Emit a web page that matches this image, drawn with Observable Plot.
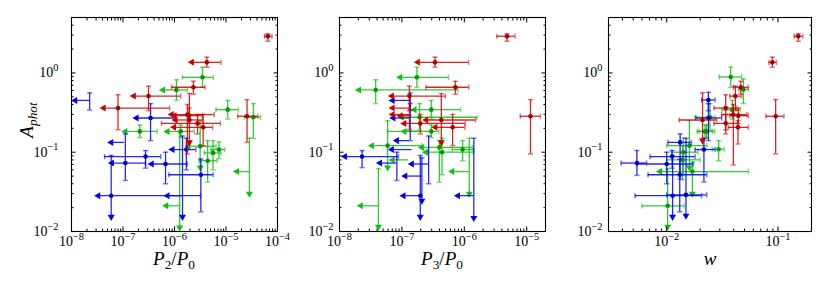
<!DOCTYPE html>
<html><head><meta charset="utf-8">
<script src="https://cdn.jsdelivr.net/npm/d3@7"></script>
<script src="https://cdn.jsdelivr.net/npm/@observablehq/plot@0.6"></script>
<style>
body{margin:0;background:#fff;}
#fig{position:relative;width:830px;height:289px;font-family:"Liberation Serif",serif;overflow:hidden;}
#fig svg{position:absolute;left:0;top:0;}
.lab{position:absolute;font-family:"Liberation Serif",serif;font-size:19px;line-height:16px;white-space:nowrap;color:#000;}
.lab sub{font-size:0.7em;vertical-align:-0.3em;line-height:0;}
</style></head><body><div id="fig"></div><script>
// columns: value, lower end, upper end (x) ; value, lower end, upper end (y) ; flags
// flags: m = marker, L = left arrow (x upper limit), D = down arrow (y upper limit)
const p2Red = [
 [6.5e-5, 5.6e-5, 7.8e-5, 2.9, 2.51, 3.11, "m"],
 [4.25e-6, 2.17e-6, 7.98e-6, 1.36, 1.18, 1.58, "mL"],
 [2.33e-6, 8.8e-7, 3.9e-6, 0.66, 0.54, 0.785, "m"],
 [3.13e-7, 1.62e-7, 1.32e-6, 0.51, 0.334, 0.68, "mL"],
 [8.0e-8, 4.2e-8, 8.05e-7, 0.36, 0.192, 0.53, "mL"],
 [1.78e-6, 8.8e-7, 5.9e-6, 0.298, 0.095, 0.40, "mL"],
 [1.92e-6, 1.0e-6, 3.5e-6, 0.289, 0.23, 0.36, "mL"],
 [2.56e-5, 1.69e-5, 4.14e-5, 0.284, 0.133, 0.46, "m"],
 [1.95e-6, 1.05e-6, 3.5e-6, 0.255, 0.133, 0.55, "mLD"],
 [2.8e-6, 5.6e-7, 7.8e-6, 0.231, 0.17, 0.30, "m"],
 [3.6e-6, 9.8e-7, 5.5e-6, 0.206, 0.121, 0.30, "mL"]
];
const p2Green = [
 [3.5e-6, 1.43e-6, 5.65e-6, 0.88, 0.66, 1.18, "m"],
 [1.09e-6, 5.97e-7, 1.78e-6, 0.61, 0.45, 0.82, "mL"],
 [1.08e-5, 6.4e-6, 1.74e-5, 0.344, 0.262, 0.45, "m"],
 [3.4e-5, 2.28e-5, 4.7e-5, 0.276, 0.15, 0.41, "m"],
 [2.85e-5, 1.64e-5, null, 0.057, 0.030, 0.15, "LD"],
 [2.12e-7, 1.11e-7, 4.6e-7, 0.183, 0.153, 0.22, "mL"],
 [1.32e-6, 7.3e-7, 2.4e-6, 0.183, 0.153, 0.22, "mL"],
 [3.15e-6, 1.87e-6, 6.4e-6, 0.119, 0.064, 0.25, "mLD"],
 [5.6e-6, 3.8e-6, 8.0e-6, 0.098, 0.06, 0.14, "m"],
 [7.3e-6, 5.1e-6, 9.5e-6, 0.108, 0.083, 0.135, "m"],
 [4.4e-6, 3.0e-6, 6.7e-6, 0.078, 0.042, 0.14, "m"],
 [1.26e-6, 6.9e-7, null, 0.0211, 0.0112, 0.18, "LD"]
];
const p2Blue = [
 [2.25e-8, 1.18e-8, null, 0.45, 0.341, 0.56, "L"],
 [3.43e-7, 1.83e-7, 9.8e-7, 0.27, 0.14, 0.41, "mL"],
 [1.07e-7, 5.9e-8, null, 0.133, null, null, "L"],
 [2.74e-7, 4.4e-8, 5.4e-7, 0.088, 0.063, 0.105, "m"],
 [1.11e-7, 6.1e-8, 2.74e-7, 0.073, 0.044, 0.17, "mL"],
 [6.7e-7, 3.6e-7, 1.78e-6, 0.071, 0.040, 0.10, "mL"],
 [5.9e-8, 3.3e-8, 3.2e-6, 0.0283, 0.0153, 0.091, "mLD"],
 [1.43e-6, 7.3e-7, null, 0.0283, 0.0153, 0.16, "LD"],
 [1.7e-6, 9.1e-7, 2.6e-6, 0.108, 0.06, 0.15, "mL"],
 [3.25e-6, 7.8e-7, 5.65e-6, 0.052, 0.0177, 0.082, "m"]
];

const p3Red = [
 [4.83e-6, 3.33e-6, 6.5e-6, 2.9, 2.51, 3.11, "m"],
 [3.39e-7, 1.8e-7, 1.17e-6, 1.36, 1.18, 1.58, "mL"],
 [7.2e-7, 2.43e-7, 1.18e-6, 0.66, 0.54, 0.785, "m"],
 [1.32e-7, 6.9e-8, 4.97e-7, 0.51, 0.334, 0.68, "mL"],
 [1.32e-7, 7.1e-8, null, 0.36, 0.192, 0.53, "L"],
 [1.32e-7, 7.1e-8, null, 0.298, null, null, "L"],
 [1.45e-7, 9.5e-8, null, 0.289, null, null, "L"],
 [1.15e-5, 7.9e-6, 1.66e-5, 0.284, 0.095, 0.46, "m"],
 [4.28e-7, 2.45e-7, 1.51e-6, 0.255, 0.133, 0.55, "mLD"],
 [1.97e-7, 1.09e-7, 1.04e-6, 0.231, 0.17, 0.30, "mL"],
 [6.5e-7, 3.43e-7, 1.02e-6, 0.206, 0.121, 0.30, "mL"]
];
const p3Green = [
 [1.74e-7, 9.4e-8, 5.6e-7, 0.88, 0.66, 1.18, "mL"],
 [3.8e-8, 2.05e-8, 7.9e-7, 0.61, 0.41, 0.82, "mL"],
 [2.96e-7, 1.59e-7, 8.7e-7, 0.344, 0.262, 0.45, "mL"],
 [1.92e-7, 9.96e-8, 1.6e-6, 0.276, 0.19, 0.41, "mL"],
 [2.96e-7, 5.9e-8, 3.9e-7, 0.183, 0.153, 0.22, "m"],
 [1.9e-7, 1.1e-7, null, 0.183, null, null, "L"],
 [5.9e-8, 3.3e-8, 2.09e-7, 0.121, 0.064, 0.25, "mLD"],
 [3.98e-7, 2.09e-7, 1.34e-6, 0.115, 0.042, 0.14, "mL"],
 [4.4e-7, 2.43e-7, 1.39e-6, 0.10, 0.052, 0.15, "mL"],
 [9.4e-7, 6.4e-7, 1.42e-6, 0.108, 0.078, 0.14, "m"],
 [1.28e-7, 7.1e-8, null, 0.08, null, null, "L"],
 [1.2e-6, 6.4e-7, null, 0.057, 0.030, 0.15, "LD"],
 [4.2e-8, 2.2e-8, null, 0.0211, 0.0115, 0.062, "LD"]
];
const p3Blue = [
 [2.3e-8, 1.22e-8, 8.8e-8, 0.088, 0.064, 0.105, "mL"],
 [8.3e-8, 4.45e-8, null, 0.073, 0.044, 0.10, "L"],
 [1.36e-7, 7.1e-8, null, 0.45, 0.341, 0.56, "L"],
 [1.36e-7, 7.3e-8, null, 0.27, 0.14, 0.41, "L"],
 [1.32e-7, 8.3e-8, null, 0.14, null, null, "L"],
 [1.45e-7, 6.9e-8, null, 0.108, null, null, "L"],
 [2.68e-7, 1.44e-7, null, 0.071, 0.040, 0.16, "L"],
 [2.09e-7, 1.13e-7, null, 0.05, 0.0244, 0.085, "LD"],
 [1.97e-7, 1.06e-7, null, 0.0283, 0.0153, 0.091, "mLD"],
 [1.42e-6, 7.9e-7, null, 0.0283, 0.0148, 0.15, "LD"]
];

const wRed = [
 [0.152, 0.140, 0.167, 2.9, 2.51, 3.11, "m"],
 [0.089, 0.083, 0.097, 1.36, 1.18, 1.58, "m"],
 [0.0463, 0.0397, 0.0542, 0.66, 0.54, 0.785, "m"],
 [0.0414, 0.037, 0.047, 0.51, 0.334, 0.68, "m"],
 [0.0339, 0.0266, 0.0426, 0.36, 0.192, 0.53, "m"],
 [0.0397, 0.0312, 0.0524, 0.298, 0.069, 0.40, "m"],
 [0.044, 0.037, 0.0542, 0.289, 0.23, 0.36, "m"],
 [0.0953, 0.078, 0.113, 0.284, 0.095, 0.46, "m"],
 [0.021, 0.013, 0.0281, 0.255, 0.14, 0.56, "mD"],
 [0.0339, 0.0266, 0.0437, 0.231, 0.17, 0.30, "m"],
 [0.0437, 0.0358, 0.0542, 0.206, 0.127, 0.25, "m"]
];
const wGreen = [
 [0.0376, 0.0297, 0.0472, 0.89, 0.66, 1.18, "m"],
 [0.0489, 0.0444, 0.0542, 0.62, 0.41, 0.84, "m"],
 [0.0389, 0.0312, 0.046, 0.341, 0.262, 0.45, "m"],
 [0.0245, 0.018, 0.0272, 0.276, 0.19, 0.41, "m"],
 [0.0221, 0.0188, 0.0258, 0.183, 0.153, 0.22, "m"],
 [0.0228, 0.0195, 0.027, 0.183, 0.15, 0.22, "m"],
 [0.016, 0.010, 0.023, 0.121, 0.064, 0.25, "mD"],
 [0.0141, 0.011, 0.019, 0.10, 0.052, 0.15, "m"],
 [0.0293, 0.0257, 0.0328, 0.109, 0.078, 0.14, "m"],
 [0.0139, 0.010, 0.020, 0.08, 0.045, 0.12, "m"],
 [0.017, 0.0087, 0.0542, 0.057, 0.030, 0.075, "mLD"],
 [0.0102, 0.006, 0.0143, 0.0211, 0.0115, 0.062, "mD"]
];
const wBlue = [
 [0.0237, 0.0206, 0.0272, 0.456, 0.334, 0.57, "m"],
 [0.0237, 0.0183, 0.0312, 0.27, 0.14, 0.41, "m"],
 [0.0132, 0.0103, 0.0167, 0.133, 0.046, 0.17, "m"],
 [0.0112, 0.0071, 0.018, 0.088, 0.063, 0.105, "m"],
 [0.0054, 0.0039, 0.0066, 0.073, 0.051, 0.105, "m"],
 [0.0100, 0.0054, 0.0174, 0.071, 0.040, 0.10, "m"],
 [0.0113, 0.0052, 0.0206, 0.0283, 0.0153, 0.091, "mD"],
 [0.0149, 0.0100, 0.0229, 0.029, 0.0158, 0.15, "mD"],
 [0.0216, 0.018, 0.0272, 0.108, 0.042, 0.15, "m"],
 [0.0131, 0.0068, 0.0229, 0.052, 0.0177, 0.082, "m"]
];

const yDomain = [0.01, 5];
const yMajor = [1e-2, 1e-1, 1e0];
const p2Domain = [1e-8, 1e-4];
const p2Major = [1e-8, 1e-7, 1e-6, 1e-5, 1e-4];
const p3Domain = [1e-8, 2e-5];
const p3Major = [1e-8, 1e-7, 1e-6, 1e-5];
const wDomain = [0.003, 0.2];
const wMajor = [1e-2, 1e-1];

const LINE = {red: "#d00000", green: "#10c010", blue: "#0000f0"};
const DOT = {red: "#a80000", green: "#009a00", blue: "#0000c0"};

const rows = (arr, c) => arr.map(([x, xl, xh, y, yl, yh, f]) => ({c, x, xl, xh, y, yl, yh, f}));
const minorOf = (dom, major) => d3.scaleLog().domain(dom).ticks().filter(t => !major.some(m => Math.abs(t / m - 1) < 1e-6));
const fmt = d => "10^" + Math.round(Math.log10(d));

const vcap = {draw(ctx, size) { const h = Math.sqrt(size / Math.PI); ctx.moveTo(0, -h); ctx.lineTo(0, h); }};
const hcap = {draw(ctx, size) { const h = Math.sqrt(size / Math.PI); ctx.moveTo(-h, 0); ctx.lineTo(h, 0); }};

function seriesMarks(data) {
  const out = [];
  for (const c of ["green", "blue", "red"]) {
    const D = data.filter(d => d.c === c);
    const capStyle = {stroke: LINE[c], strokeOpacity: 0.55, strokeWidth: 1.5, fill: "none", r: 2.6};
    out.push(
      Plot.ruleY(D.filter(d => d.xl != null || d.xh != null), {y: "y", x1: d => d.xl ?? d.x, x2: d => d.xh ?? d.x, stroke: LINE[c], strokeWidth: 1.3, strokeOpacity: 0.85}),
      Plot.ruleX(D.filter(d => d.yl != null || d.yh != null), {x: "x", y1: d => d.yl ?? d.y, y2: d => d.yh ?? d.y, stroke: LINE[c], strokeWidth: 1.3, strokeOpacity: 0.85}),
      Plot.dot(D.filter(d => d.xl != null && !d.f.includes("L")), {x: "xl", y: "y", symbol: vcap, ...capStyle}),
      Plot.dot(D.filter(d => d.xh != null), {x: "xh", y: "y", symbol: vcap, ...capStyle}),
      Plot.dot(D.filter(d => d.yl != null && !d.f.includes("D")), {x: "x", y: "yl", symbol: hcap, ...capStyle}),
      Plot.dot(D.filter(d => d.yh != null), {x: "x", y: "yh", symbol: hcap, ...capStyle}),
      Plot.dot(D.filter(d => d.f.includes("L")), {x: "xl", y: "y", symbol: "triangle", rotate: -90, r: 2.6, fill: LINE[c], stroke: "none"}),
      Plot.dot(D.filter(d => d.f.includes("D")), {x: "x", y: "yl", symbol: "triangle", rotate: 180, r: 2.6, fill: LINE[c], stroke: "none"}),
      Plot.dot(D.filter(d => d.f.includes("m")), {x: "x", y: "y", r: 2.3, fill: DOT[c], stroke: "none"})
    );
  }
  return out;
}

function axisMarks(xDom, xMaj, yPad) {
  const xMin = minorOf(xDom, xMaj), yMin = minorOf(yDomain, yMajor);
  const t = {fill: "none", label: null, stroke: "black"};
  const lab = {tickSize: 0, tickFormat: fmt, label: null, fill: "black", fontSize: 14};
  return [
    Plot.axisX(xMaj, {anchor: "bottom", tickSize: -4.5, ...t}),
    Plot.axisX(xMaj, {anchor: "top", tickSize: -4.5, ...t}),
    Plot.axisX(xMin, {anchor: "bottom", tickSize: -2.5, ...t}),
    Plot.axisX(xMin, {anchor: "top", tickSize: -2.5, ...t}),
    Plot.axisY(yMajor, {anchor: "left", tickSize: -4.5, ...t}),
    Plot.axisY(yMajor, {anchor: "right", tickSize: -4.5, ...t}),
    Plot.axisY(yMin, {anchor: "left", tickSize: -2.5, ...t}),
    Plot.axisY(yMin, {anchor: "right", tickSize: -2.5, ...t}),
    Plot.axisX(xMaj, {anchor: "bottom", tickPadding: 5, ...lab}),
    Plot.axisY(yMajor, {anchor: "left", tickPadding: yPad, ...lab})
  ];
}

function makePanel(data, xDom, xMaj, ml, mr, yPad) {
  const svg = Plot.plot({
    width: 830, height: 289,
    marginLeft: ml, marginRight: mr, marginTop: 17, marginBottom: 58,
    style: {background: "transparent", fontFamily: "'Liberation Serif', serif", fontSize: "14px", overflow: "visible", color: "black"},
    x: {type: "log", domain: xDom},
    y: {type: "log", domain: yDomain},
    marks: [
      ...seriesMarks(data),
      ...axisMarks(xDom, xMaj, yPad),
      Plot.frame({stroke: "black", strokeWidth: 1.1})
    ]
  });
  d3.select(svg).selectAll("text").each(function() {
    const m = /^10\^(-?\d+)$/.exec(this.textContent);
    if (!m) return;
    const el = d3.select(this);
    el.text("");
    el.attr("font-family", "'Liberation Serif', serif").attr("font-size", 14);
    el.append("tspan").text("10");
    el.append("tspan").attr("dy", "-0.6em").attr("font-size", "0.74em").text(m[1].replace("-", "\u2212"));
  });
  return svg;
}

const fig = document.getElementById("fig");
fig.appendChild(makePanel([...rows(p2Red, "red"), ...rows(p2Green, "green"), ...rows(p2Blue, "blue")], p2Domain, p2Major, 71, 553, 13));
fig.appendChild(makePanel([...rows(p3Red, "red"), ...rows(p3Green, "green"), ...rows(p3Blue, "blue")], p3Domain, p3Major, 339, 285, 6));
fig.appendChild(makePanel([...rows(wRed, "red"), ...rows(wGreen, "green"), ...rows(wBlue, "blue")], wDomain, wMajor, 608, 19, 6));

const labels = [
  {html: "<i>P</i><sub>2</sub>/<i>P</i><sub>0</sub>", x: 174, y: 251},
  {html: "<i>P</i><sub>3</sub>/<i>P</i><sub>0</sub>", x: 442, y: 251},
  {html: "<i>w</i>", x: 710, y: 251}
];
for (const l of labels) {
  const d = document.createElement("div");
  d.className = "lab"; d.innerHTML = l.html;
  d.style.left = l.x + "px"; d.style.top = l.y + "px"; d.style.transform = "translateX(-50%)";
  fig.appendChild(d);
}
const yl = document.createElement("div");
yl.className = "lab"; yl.innerHTML = "<i>A</i><sub><i>phot</i></sub>";
yl.style.left = "27px"; yl.style.top = "120px";
yl.style.transform = "translate(-50%,-50%) rotate(-90deg)";
fig.appendChild(yl);
</script></body></html>
